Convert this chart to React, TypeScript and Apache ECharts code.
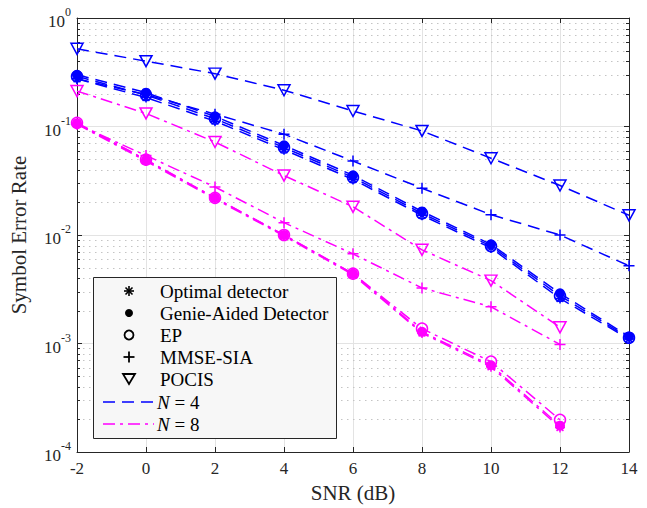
import React, { useEffect, useRef } from "react";
import * as echarts from "echarts";

// SNR grid (dB)
const snrN4 = [-2, 0, 2, 4, 6, 8, 10, 12, 14];
const snrN8 = [-2, 0, 2, 4, 6, 8, 10, 12];

// N = 4 curves
const optimalN4 = [0.275, 0.185, 0.112, 0.061, 0.0325, 0.0152, 0.0076, 0.0026, 0.0011];
const genieN4 = [0.3, 0.205, 0.124, 0.067, 0.0355, 0.0165, 0.0082, 0.0029, 0.00116];
const epN4 = [0.29, 0.195, 0.118, 0.064, 0.034, 0.0158, 0.0079, 0.00275, 0.00113];
const mmseN4 = [0.275, 0.197, 0.13, 0.085, 0.048, 0.027, 0.0154, 0.01, 0.0052];
const pocisN4 = [0.52, 0.4, 0.307, 0.216, 0.139, 0.091, 0.051, 0.0286, 0.0152];

// N = 8 curves
const optimalN8 = [0.105, 0.048, 0.0215, 0.0098, 0.0043, 0.00125, 0.00061, 0.000168];
const genieN8 = [0.107, 0.049, 0.022, 0.01, 0.0044, 0.00128, 0.00063, 0.000175];
const epN8 = [0.108, 0.0495, 0.022, 0.01, 0.0044, 0.00137, 0.00068, 0.000198];
const mmseN8 = [0.105, 0.054, 0.0277, 0.013, 0.0067, 0.00325, 0.00218, 0.00098];
const pocisN8 = [0.212, 0.132, 0.072, 0.0353, 0.0182, 0.0073, 0.0038, 0.00141];

const legendLabels = [
  "Optimal detector",
  "Genie-Aided Detector",
  "EP",
  "MMSE-SIA",
  "POCIS",
];
const legendN = ["4", "8"];

const FONT = "'Liberation Serif', 'Times New Roman', serif";
const BLUE = "#0000ff";
const MAG = "#ff00ff";
const AX = "#262626";
const DASH = [12, 7];
const DASHDOT = [12, 5, 3, 5];

const STAR = "path://M5,0L5,10M0,5L10,5M1.6,1.6L8.4,8.4M1.6,8.4L8.4,1.6";
const PLUS = "path://M5,0L5,10M0,5L10,5";
const TRI = "path://M0,0L10,0L5,9Z";

type Sym = { symbol: string; size: number | number[]; filled: boolean };
const SYMS: Sym[] = [
  { symbol: STAR, size: 10, filled: false },
  { symbol: "circle", size: 10, filled: true },
  { symbol: "circle", size: 11, filled: false },
  { symbol: PLUS, size: 11, filled: false },
  { symbol: TRI, size: [12, 11], filled: false },
];

function mk(name: string, xs: number[], ys: number[], color: string, dash: number[], s: Sym) {
  return {
    type: "line",
    name,
    data: xs.map((x, i) => [x, ys[i]]),
    symbol: s.symbol,
    symbolSize: s.size,
    symbolKeepAspect: false,
    showSymbol: true,
    showAllSymbol: true,
    lineStyle: { color, width: 1.5, type: dash },
    itemStyle: {
      color: s.filled ? color : "none",
      borderColor: color,
      borderWidth: s.filled ? 0 : 1.5,
    },
    emphasis: { disabled: true },
    silent: true,
    z: 3,
  };
}

export default function App() {
  const ref = useRef<HTMLDivElement>(null);
  useEffect(() => {
    if (!ref.current) return;
    const chart = echarts.init(ref.current, undefined, { renderer: "svg" });

    const minorVals: number[] = [];
    for (let e = -4; e < 0; e++) for (let m = 2; m <= 9; m++) minorVals.push(m * Math.pow(10, e));

    const n4 = [optimalN4, genieN4, epN4, mmseN4, pocisN4];
    const n8 = [optimalN8, genieN8, epN8, mmseN8, pocisN8];
    const series: any[] = [];
    n8.forEach((ys, i) => series.push(mk(legendLabels[i] + " N=8", snrN8, ys, MAG, DASHDOT, SYMS[i])));
    n4.forEach((ys, i) => series.push(mk(legendLabels[i] + " N=4", snrN4, ys, BLUE, DASH, SYMS[i])));

    series.push({
      type: "custom",
      name: "minor",
      silent: true,
      z: 1,
      clip: false,
      data: minorVals.map((v) => [snrN4[0], v]),
      encode: { x: 0, y: 1 },
      renderItem: (params: any, api: any) => {
        const p = api.coord([api.value(0), api.value(1)]);
        const cs = params.coordSys;
        const y = Math.round(p[1]) + 0.5;
        return {
          type: "group",
          children: [
            {
              type: "line",
              shape: { x1: cs.x, y1: y, x2: cs.x + cs.width, y2: y },
              style: { stroke: "#c4c4c4", lineWidth: 1, lineDash: [1.5, 4.5] },
            },
            {
              type: "line",
              shape: { x1: cs.x, y1: y, x2: cs.x + 3, y2: y },
              style: { stroke: AX, lineWidth: 1 },
            },
            {
              type: "line",
              shape: { x1: cs.x + cs.width - 3, y1: y, x2: cs.x + cs.width, y2: y },
              style: { stroke: AX, lineWidth: 1 },
            },
          ],
        };
      },
    });

    const lx = 93, ly = 277, mx = 129, tx = 160;
    const rowY = [291, 313, 335, 357, 379, 402, 424];
    const blk = { stroke: "#000", lineWidth: 1.6 };
    const legend: any[] = [
      {
        type: "rect",
        shape: { x: lx + 0.5, y: ly + 0.5, width: 243, height: 161 },
        style: { fill: "#f7f7f7", stroke: AX, lineWidth: 1 },
      },
      { type: "line", shape: { x1: mx, y1: rowY[0] - 5, x2: mx, y2: rowY[0] + 5 }, style: blk },
      { type: "line", shape: { x1: mx - 5, y1: rowY[0], x2: mx + 5, y2: rowY[0] }, style: blk },
      { type: "line", shape: { x1: mx - 3.5, y1: rowY[0] - 3.5, x2: mx + 3.5, y2: rowY[0] + 3.5 }, style: blk },
      { type: "line", shape: { x1: mx - 3.5, y1: rowY[0] + 3.5, x2: mx + 3.5, y2: rowY[0] - 3.5 }, style: blk },
      { type: "circle", shape: { cx: mx, cy: rowY[1], r: 4 }, style: { fill: "#000" } },
      { type: "circle", shape: { cx: mx, cy: rowY[2], r: 4.5 }, style: { fill: "none", stroke: "#000", lineWidth: 1.8 } },
      { type: "line", shape: { x1: mx, y1: rowY[3] - 5.5, x2: mx, y2: rowY[3] + 5.5 }, style: { stroke: "#000", lineWidth: 1.8 } },
      { type: "line", shape: { x1: mx - 5.5, y1: rowY[3], x2: mx + 5.5, y2: rowY[3] }, style: { stroke: "#000", lineWidth: 1.8 } },
      {
        type: "polygon",
        shape: { points: [[mx - 6, rowY[4] - 5], [mx + 6, rowY[4] - 5], [mx, rowY[4] + 5]] },
        style: { fill: "none", stroke: "#000", lineWidth: 1.8 },
      },
      { type: "line", shape: { x1: 103, y1: rowY[5], x2: 154, y2: rowY[5] }, style: { stroke: BLUE, lineWidth: 1.5, lineDash: DASH } },
      { type: "line", shape: { x1: 103, y1: rowY[6], x2: 154, y2: rowY[6] }, style: { stroke: MAG, lineWidth: 1.5, lineDash: DASHDOT } },
    ];
    legendLabels.forEach((t, i) => {
      legend.push({
        type: "text",
        x: tx,
        y: rowY[i],
        style: { text: t, fontFamily: FONT, fontSize: 19, fill: "#000", verticalAlign: "middle", align: "left" },
      });
    });
    legendN.forEach((n, i) => {
      legend.push({
        type: "text",
        x: tx - 3,
        y: rowY[5 + i],
        style: {
          text: `{i|N}{r| = ${n}}`,
          fontFamily: FONT,
          fontSize: 19,
          fill: "#000",
          verticalAlign: "middle",
          align: "left",
          rich: {
            i: { fontStyle: "italic", fontFamily: FONT, fontSize: 19, fill: "#000" },
            r: { fontFamily: FONT, fontSize: 19, fill: "#000" },
          },
        },
      });
    });
    legend.forEach((el) => {
      el.z = 100;
      el.silent = true;
    });

    const xAxisBase = {
      type: "value",
      min: -2,
      max: 14,
      interval: 2,
      axisLine: { show: true, onZero: false, lineStyle: { color: AX, width: 1 } },
      axisTick: { show: true, inside: true, length: 5, lineStyle: { color: AX } },
    };
    const yAxisBase = {
      type: "log",
      logBase: 10,
      min: 1e-4,
      max: 1,
      splitNumber: 4,
      axisLine: { show: true, onZero: false, lineStyle: { color: AX, width: 1 } },
      axisTick: { show: true, inside: true, length: 5, lineStyle: { color: AX } },
    };

    chart.setOption({
      animation: false,
      backgroundColor: "#ffffff",
      grid: { left: 77, right: 18, top: 18, bottom: 54, containLabel: false },
      xAxis: [
        {
          ...xAxisBase,
          position: "bottom",
          name: "SNR (dB)",
          nameLocation: "middle",
          nameGap: 30,
          nameTextStyle: { fontFamily: FONT, fontSize: 21, color: AX },
          axisLabel: {
            show: true,
            margin: 8,
            fontFamily: FONT,
            fontSize: 17,
            color: AX,
            formatter: (v: number) => String(v),
          },
          splitLine: { show: true, lineStyle: { color: "#e3e3e3", width: 1 } },
        },
        {
          ...xAxisBase,
          position: "top",
          axisLabel: { show: false },
          splitLine: { show: false },
        },
      ],
      yAxis: [
        {
          ...yAxisBase,
          position: "left",
          name: "Symbol Error Rate",
          nameLocation: "middle",
          nameGap: 48,
          nameTextStyle: { fontFamily: FONT, fontSize: 21, color: AX },
          axisLabel: {
            show: true,
            margin: 6,
            color: AX,
            formatter: (v: number) => `{b|10}{s|${Math.round(Math.log10(v))}}`,
            rich: {
              b: { fontFamily: FONT, fontSize: 17, color: AX, lineHeight: 16, verticalAlign: "bottom" },
              s: { fontFamily: FONT, fontSize: 12, color: AX, lineHeight: 24, verticalAlign: "top" },
            },
          },
          splitLine: { show: true, lineStyle: { color: "#e3e3e3", width: 1 } },
        },
        {
          ...yAxisBase,
          position: "right",
          axisLabel: { show: false },
          splitLine: { show: false },
        },
      ],
      series,
      graphic: { elements: legend },
    });

    return () => chart.dispose();
  }, []);

  return (
    <div
      ref={ref}
      style={{ position: "absolute", left: 0, top: 0, width: 647, height: 508, background: "#fff" }}
    />
  );
}
